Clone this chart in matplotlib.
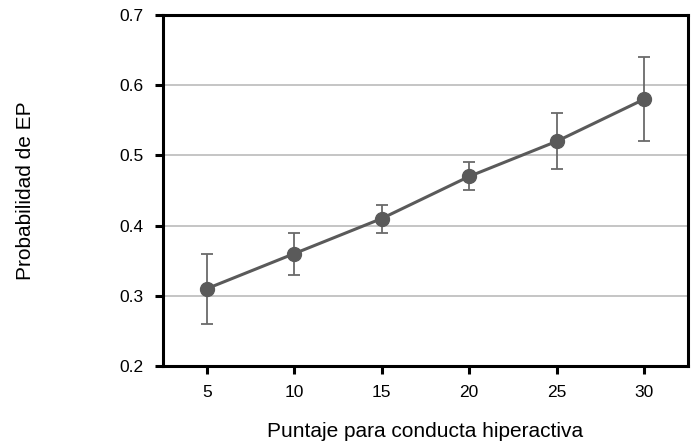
import matplotlib.pyplot as plt
import numpy as np

plt.rcParams['font.family'] = ['Liberation Sans', 'DejaVu Sans']

# datos
puntaje = [5, 10, 15, 20, 25, 30]
prob = [0.31, 0.36, 0.41, 0.47, 0.52, 0.58]
err_inf = [0.05, 0.03, 0.02, 0.02, 0.04, 0.06]
err_sup = [0.05, 0.03, 0.02, 0.02, 0.04, 0.06]
yticks = [0.2, 0.3, 0.4, 0.5, 0.6, 0.7]

fig = plt.figure(figsize=(6.94, 4.44), dpi=100)
ax = fig.add_axes([0.235, 0.176, 0.756, 0.790])

ax.errorbar(puntaje, prob, yerr=[err_inf, err_sup], fmt='none',
            ecolor='#6a6a6a', elinewidth=1.3, capsize=4, capthick=1.3, zorder=2)
ax.plot(puntaje, prob, color='#5a5a5a', lw=2.2, marker='o', markersize=10,
        markerfacecolor='#5a5a5a', markeredgecolor='#5a5a5a', zorder=3)

ax.set_xlim(2.5, 32.5)
ax.set_ylim(0.2, 0.7)
ax.set_xticks(puntaje)
ax.set_yticks(yticks)
ax.set_yticklabels(['%.1f' % v for v in yticks])
for v in yticks[1:-1]:
    ax.axhline(v, color='#bbbbbb', lw=1.2, zorder=1)

for s in ax.spines.values():
    s.set_linewidth(2.2)
    s.set_color('black')
ax.tick_params(axis='both', direction='out', width=2.2, length=6,
               labelsize=12.5, color='black', pad=8)

ax.set_xlabel('Puntaje para conducta hiperactiva', fontsize=15)
ax.set_ylabel('Probabilidad de EP', fontsize=15)
ax.xaxis.set_label_coords(0.5, -0.16)
ax.yaxis.set_label_coords(-0.245, 0.5)

fig.savefig('out.png', dpi=100)
